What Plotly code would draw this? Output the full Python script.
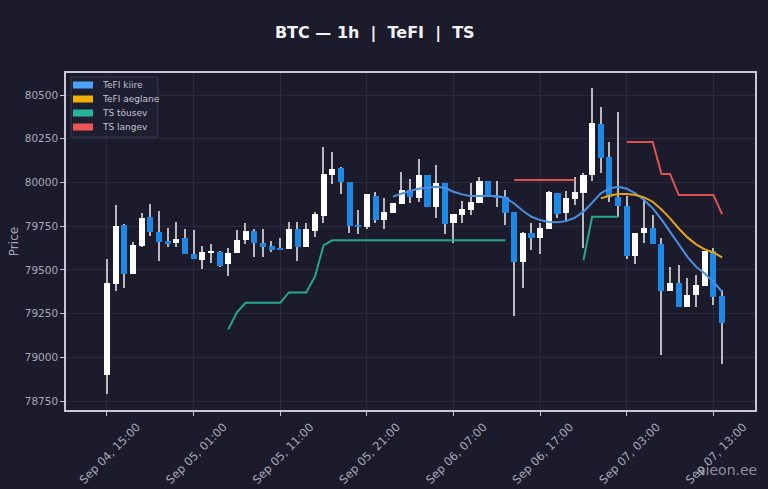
import plotly.graph_objects as go
import pandas as pd

# hourly BTC candles, Sep 04 15:00 .. Sep 07 14:00
times = pd.date_range("2025-09-04 15:00", periods=72, freq="h")

opens = [78899, 79419, 79758, 79474, 79638, 79800, 79717, 79665, 79655, 79680,
         79589, 79556, 79597, 79604, 79532, 79594, 79671, 79724, 79655, 79637,
         79620, 79619, 79734, 79633, 79724, 79810, 80042, 80081, 80004, 79757,
         79743, 79922, 79785, 79823, 79877, 79957, 79909, 80042, 79861, 79999,
         79770, 79814, 79842, 79884, 80010, 79915, 79919, 79833, 79543, 79713,
         79680, 79734, 79941, 79823, 79903, 79941, 80042, 80334, 80147, 79919,
         79867, 79581, 79713, 79741, 79648, 79379, 79427, 79289, 79356, 79408,
         79610, 79350]
highs = [79562, 79871, 79760, 79661, 79823, 79875, 79838, 79737, 79772, 79732,
         79726, 79638, 79648, 79606, 79623, 79728, 79770, 79734, 79732, 79667,
         79684, 79776, 79772, 79766, 79833, 80205, 80172, 80086, 80004, 79842,
         79932, 79947, 79909, 79880, 80062, 80018, 80132, 80042, 80100, 79999,
         79819, 79896, 79995, 80029, 80010, 80010, 79957, 79833, 79718, 79766,
         79770, 79951, 79941, 79951, 80033, 80052, 80538, 80433, 80233, 80401,
         79922, 79713, 79903, 79814, 79680, 79514, 79528, 79451, 79471, 79610,
         79623, 79385]
lows = [78788, 79379, 79398, 79474, 79629, 79695, 79551, 79633, 79633, 79589,
        79562, 79503, 79537, 79514, 79465, 79594, 79650, 79575, 79575, 79600,
        79614, 79619, 79551, 79633, 79690, 79766, 79989, 79932, 79713, 79705,
        79732, 79766, 79732, 79823, 79877, 79880, 79890, 79861, 79795, 79705,
        79652, 79766, 79814, 79884, 79915, 79861, 79757, 79236, 79394, 79614,
        79589, 79734, 79795, 79779, 79871, 79627, 80010, 80052, 79890, 79804,
        79560, 79533, 79655, 79648, 79013, 79379, 79289, 79289, 79289, 79408,
        79299, 78962]
closes = [79423, 79753, 79474, 79642, 79798, 79715, 79661, 79646, 79678, 79589,
          79562, 79600, 79603, 79524, 79598, 79671, 79722, 79652, 79633, 79614,
          79618, 79734, 79633, 79734, 79818, 80046, 80075, 80001, 79751, 79747,
          79932, 79785, 79829, 79880, 79957, 79915, 80042, 79861, 79999, 79760,
          79819, 79846, 79890, 80010, 79915, 79912, 79827, 79547, 79713, 79680,
          79737, 79947, 79819, 79909, 79943, 80042, 80338, 80142, 79919, 79867,
          79579, 79713, 79741, 79648, 79381, 79427, 79289, 79356, 79413, 79610,
          79347, 79198]

N = None
tefi_fast = [N] * 33 + [
    79919, 79938, 79953, 79964, 79972, 79976, 79970, 79947, 79932, 79922,
    79922, 79922, 79922, 79913, 79880, 79838, 79804, 79785, 79774, 79772,
    79779, 79798, 79833, 79884, 79938, 79966, 79976, 79964, 79938, 79900,
    79852, 79789, 79718, 79642, 79575, 79518, 79480, 79432, 79375]
tefi_slow = [N] * 57 + [
    79909, 79924, 79934, 79934, 79928, 79915, 79890, 79846, 79795, 79737,
    79686, 79646, 79617, 79600, 79572]
ts_up = [N] * 14 + [79160, 79257] + [79312] * 5 + [79371] * 3 + [79461, 79640] \
    + [79669] * 21 + [N] * 8 + [79556] + [79804] * 4 + [N] * 12
ts_down = [N] * 47 + [80014] * 8 + [N] * 5 + [80231] * 4 + [80048] * 2 \
    + [79928] * 5 + [79819]

tick_times = pd.date_range("2025-09-04 15:00", periods=8, freq="10h")
y_ticks = [78750, 79000, 79250, 79500, 79750, 80000, 80250, 80500]

legend_names = ["TeFI kiire", "TeFI aeglane", "TS tõusev", "TS langev"]
legend_cols = ["#4da3ff", "#f0b000", "#26b39a", "#f05454"]
line_cols = ["#4a90e2", "#e8a317", "#26a68e", "#e05252"]

BG = "#1b1b2c"
TXT = "#a9a9b8"
UP = "#ffffff"
DOWN = "#1e88e5"
WICK = "#b9b9c2"
HOUR = 3600000

fig = go.Figure()

# wicks (drawn as thin bars so the bodies cover them)
fig.add_trace(go.Bar(x=times, y=[h - l for h, l in zip(highs, lows)], base=lows,
                     width=0.14 * HOUR, marker=dict(color=WICK, line=dict(width=0)),
                     showlegend=False, hoverinfo="skip"))

# bodies
base = [min(o, c) for o, c in zip(opens, closes)]
height = [max(abs(c - o), 8) for o, c in zip(opens, closes)]
colors = [UP if c >= o else DOWN for o, c in zip(opens, closes)]
fig.add_trace(go.Bar(x=times, y=height, base=base, width=0.7 * HOUR,
                     marker=dict(color=colors, line=dict(width=0)),
                     showlegend=False, hoverinfo="skip"))

for name, vals, col in zip(legend_names, [tefi_fast, tefi_slow, ts_up, ts_down], line_cols):
    fig.add_trace(go.Scatter(x=times, y=vals, mode="lines", name=name,
                             line=dict(color=col, width=2), showlegend=False))

# plot area is 689 x 337 px; legend drawn by hand in paper coords
PW, PH = 689.0, 337.0
shapes = [dict(type="rect", xref="paper", yref="paper",
               x0=5 / PW, x1=92 / PW, y0=(410 - 137) / PH, y1=(410 - 77) / PH,
               fillcolor="#1e1e31", line=dict(color="#3a3a52", width=1), layer="above")]
annotations = []
for i, (name, col) in enumerate(zip(legend_names, legend_cols)):
    yc = 85 + 14 * i
    shapes.append(dict(type="rect", xref="paper", yref="paper",
                       x0=7 / PW, x1=27 / PW, y0=(410 - yc - 3.5) / PH, y1=(410 - yc + 3.5) / PH,
                       fillcolor=col, line=dict(width=0), layer="above"))
    annotations.append(dict(text=name, xref="paper", yref="paper", x=34 / PW, y=(410 - yc) / PH,
                            xanchor="left", yanchor="middle", showarrow=False,
                            font=dict(size=9, color="#c4c4d0")))

annotations.append(dict(text="aieon.ee", xref="paper", yref="paper", x=1, y=-0.178,
                        xanchor="right", yanchor="middle", xshift=4, showarrow=False,
                        font=dict(size=14, color="rgba(175,175,190,0.8)")))

x0 = times[0] - pd.Timedelta(hours=4.73)
x1 = times[0] + pd.Timedelta(hours=74.8)

fig.update_layout(
    width=768, height=489,
    paper_bgcolor=BG, plot_bgcolor=BG,
    margin=dict(l=66, r=13, t=73, b=79),
    font=dict(family="DejaVu Sans", color=TXT, size=11),
    title=dict(text="<b>BTC — 1h  |  TeFI  |  TS</b>", x=0.488, xanchor="center",
               y=0.933, yanchor="middle", font=dict(size=16, color="#f2f2f5")),
    showlegend=False,
    barmode="overlay", bargap=0,
    shapes=shapes, annotations=annotations,
    xaxis=dict(type="date", range=[x0, x1], tickvals=tick_times, automargin=False,
               tickformat="%b %d, %H:%M", tickangle=-45, ticklabelshift=30,
               tickfont=dict(size=11.5, color=TXT),
               showgrid=True, gridcolor="#2b2b40", gridwidth=1,
               showline=True, linecolor="#c8c8d6", linewidth=1.5, mirror=True,
               ticks="outside", ticklen=4, tickcolor="#c8c8d6", zeroline=False),
    yaxis=dict(range=[78699, 80626], tickvals=y_ticks, automargin=False,
               tickformat="d", tickfont=dict(size=10.5, color=TXT),
               title=dict(text="Price", font=dict(size=12, color=TXT), standoff=4),
               showgrid=True, gridcolor="#2b2b40", gridwidth=1,
               showline=True, linecolor="#c8c8d6", linewidth=1.5, mirror=True,
               ticks="outside", ticklen=4, tickcolor="#c8c8d6", zeroline=False),
)

fig.write_html("out.html", config={"displayModeBar": False},
               post_script="document.body.style.margin='0';")
